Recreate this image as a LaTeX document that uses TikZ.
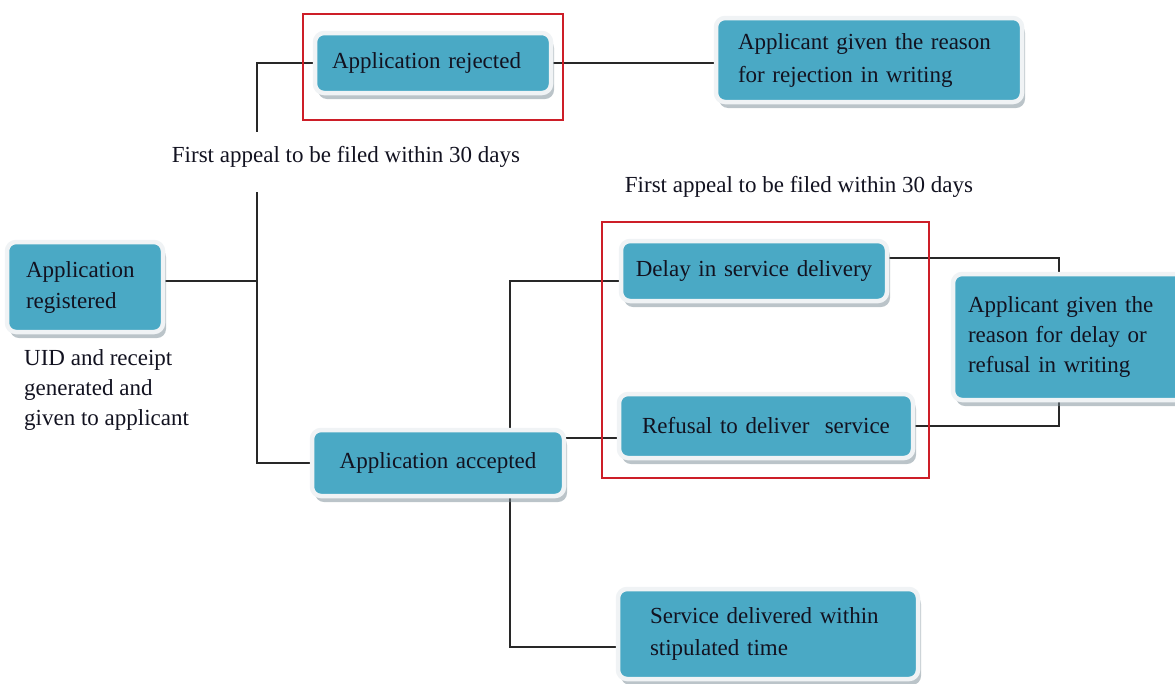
\documentclass[tikz,border=0pt]{standalone}
\usepackage{fontspec}
\setmainfont{Liberation Serif}
\usetikzlibrary{shadows,backgrounds}
\definecolor{boxfill}{RGB}{74,169,197}
\definecolor{rim}{RGB}{240,243,245}
\definecolor{shade}{RGB}{120,138,148}
\definecolor{ink}{RGB}{18,18,32}
\definecolor{frame}{RGB}{205,30,40}
\definecolor{wire}{RGB}{40,40,40}
\tikzset{
  box/.style={rounded corners=9pt, fill=boxfill, draw=rim, line width=4.5pt,
    drop shadow={shadow xshift=3pt, shadow yshift=-6pt, fill=shade},
    text=ink, font=\fontsize{23}{31}\selectfont, anchor=center, inner ysep=0pt},
  conn/.style={draw=wire, line width=1.8pt},
  redframe/.style={draw=frame, line width=1.6pt},
  plain/.style={text=ink, font=\fontsize{23}{30}\selectfont, inner sep=0pt}
}
\begin{document}
\begin{tikzpicture}[x=1pt,y=-1pt]
\useasboundingbox (0,0) rectangle (1175,683);
% red frames
\draw[redframe] (303,14) rectangle (563,120);
\draw[redframe] (602,222) rectangle (929,478);
% boxes
\node[box, minimum width=236pt, minimum height=60pt, inner xsep=17pt, text width=202pt, align=left] (rej) at (433,63) {Application rejected};
\node[box, minimum width=304pt, minimum height=84pt, inner xsep=22pt, text width=262pt, align=left, font=\fontsize{23}{33}\selectfont] (rejr) at (869,60) {\makebox[264pt][s]{Applicant given the reason}\\for rejection in writing};
\node[box, minimum width=156pt, minimum height=90pt, inner xsep=19pt, text width=118pt, align=left] (reg) at (85,287) {Application\\registered};
\node[box, minimum width=252pt, minimum height=66pt, inner xsep=10pt, text width=232pt, align=center] (acc) at (438,463) {Application accepted};
\node[box, minimum width=266pt, minimum height=60pt, inner xsep=8pt, text width=250pt, align=center] (delay) at (754,271) {Delay in service delivery};
\node[box, minimum width=294pt, minimum height=64pt, inner xsep=8pt, text width=278pt, align=center] (refusal) at (766,426) {Refusal to deliver\ \ service};
\node[box, minimum width=232pt, minimum height=126pt, inner xsep=15pt, text width=202pt, align=left, font=\fontsize{23}{30}\selectfont] (delr) at (1069,337) {Applicant given the\\reason for delay or\\refusal in writing};
\node[box, minimum width=300pt, minimum height=90pt, inner xsep=32pt, text width=236pt, align=left, font=\fontsize{23}{32}\selectfont] (serv) at (768,634) {Service delivered within\\stipulated time};
% free texts
\node[plain, anchor=center] (fa1) at (346,157) {First appeal to be filed within 30 days};
\node[plain, anchor=center] (fa2) at (799,187) {First appeal to be filed within 30 days};
\node[plain, anchor=west, align=left] (uid) at (24,390) {UID and receipt\\generated and\\given to applicant};
% junction coordinates
\coordinate (t1) at (257,132);
\coordinate (t2) at (257,192);
\coordinate (r) at (257,281);
\coordinate (k) at (510,281);
\coordinate (yr) at (590,438);
\coordinate (n) at (1059,258);
\coordinate (q) at (510,647);
\begin{pgfonlayer}{background}
\draw[conn] (rej.west) -| (t1);
\draw[conn] (t2) |- (acc.west);
\draw[conn] (reg.east |- r) -- (r);
\draw[conn] (rej.east) -- (rej.east -| rejr.west);
\draw[conn] (acc.north -| k) -- (k) -- (k -| delay.west);
\draw[conn] (acc.east |- yr) -- (refusal.west |- yr);
\draw[conn] (delay.east |- n) -- (n) -- (n |- delr.north);
\draw[conn] (refusal.east) -| (n |- delr.south);
\draw[conn] (acc.south -| k) -- (q) -- (q -| serv.west);
\end{pgfonlayer}
\end{tikzpicture}
\end{document}
